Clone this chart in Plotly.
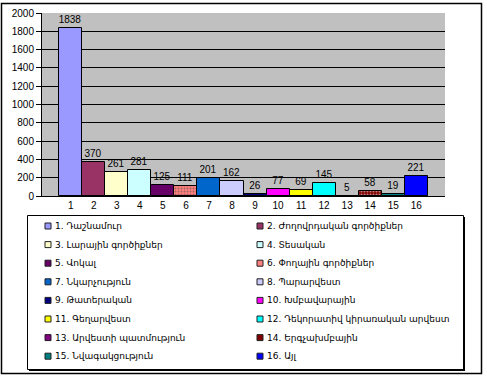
import plotly.graph_objects as go

positions = list(range(1, 17))
tick_labels = [str(i) for i in positions]
values = [1838, 370, 261, 281, 125, 111, 201, 162, 26, 77, 69, 145, 5, 58, 19, 221]
names = [
    "1. Դաշնամուր",
    "2. Ժողովրդական գործիքներ",
    "3. Լարային գործիքներ",
    "4. Տեսական",
    "5. Վոկալ",
    "6. Փողային գործիքներ",
    "7. Նկարչություն",
    "8. Պարարվեստ",
    "9. Թատերական",
    "10. Խմբավարային",
    "11. Գեղարվեստ",
    "12. Դեկորատիվ կիրառական արվեստ",
    "13. Արվեստի պատմություն",
    "14. Երգչախմբային",
    "15. Նվագակցություն",
    "16. Այլ",
]
colors = ["#9999FF", "#993366", "#FFFFCC", "#CCFFFF", "#660066", "#FF8080",
          "#0066CC", "#CCCCFF", "#000080", "#FF00FF", "#FFFF00", "#00FFFF",
          "#800080", "#800000", "#008080", "#0000FF"]
patterns = ["", "", "", "", "", ".", "", "", "", "", "", "", "", ".", "", ""]
pattern_fg = ["#000000"] * 16
pattern_fg[5] = "#FFD0D0"
pattern_fg[13] = "#300000"

W, H = 487, 379
L, R, T, B = 42, 445, 13, 196  # plot area in px

def px_x(px):
    return (px - L) / (R - L)

def px_y(py):
    return (B - py) / (B - T)

fig = go.Figure()
fig.add_trace(go.Bar(
    x=positions, y=values, width=1,
    marker=dict(color=colors, line=dict(color="black", width=1),
                pattern=dict(shape=patterns, fgcolor=pattern_fg, size=3, solidity=0.35)),
    text=[str(v) for v in values], textposition="outside", cliponaxis=False,
    textfont=dict(family="Liberation Sans, Arial", size=10, color="black"),
    showlegend=False,
))

shapes = []
# outer border
shapes.append(dict(type="rect", xref="paper", yref="paper",
                   x0=px_x(1.5), x1=px_x(481.5), y0=px_y(373.5), y1=px_y(3.5),
                   line=dict(color="black", width=1.5), fillcolor="rgba(0,0,0,0)", layer="below"))
# legend shadow + box
shapes.append(dict(type="rect", xref="paper", yref="paper",
                   x0=px_x(29), x1=px_x(465), y0=px_y(371), y1=px_y(217),
                   line=dict(width=0), fillcolor="black"))
shapes.append(dict(type="rect", xref="paper", yref="paper",
                   x0=px_x(27.5), x1=px_x(463.5), y0=px_y(369.5), y1=px_y(215.5),
                   line=dict(color="black", width=1), fillcolor="white"))

annotations = []
col_x = [45, 257]
row_y0, row_dy = 226, 18.6
for i, (nm, c) in enumerate(zip(names, colors)):
    col = i % 2
    row = i // 2
    cy = row_y0 + row * row_dy
    mx = col_x[col]
    shapes.append(dict(type="rect", xref="paper", yref="paper",
                       x0=px_x(mx), x1=px_x(mx + 6), y0=px_y(cy + 3), y1=px_y(cy - 3),
                       line=dict(color="#202020", width=1), fillcolor=c))
    annotations.append(dict(text=nm, xref="paper", yref="paper",
                            x=px_x(mx + 8), y=px_y(cy), xanchor="left", yanchor="middle",
                            showarrow=False,
                            font=dict(family="DejaVu Sans, Noto Sans", size=9, color="black")))

fig.update_layout(
    width=W, height=H,
    margin=dict(l=L, r=W - R, t=T, b=H - B, pad=0, autoexpand=False),
    paper_bgcolor="white", plot_bgcolor="#C0C0C0",
    bargap=0, barmode="overlay",
    shapes=shapes, annotations=annotations,
    xaxis=dict(range=[-0.25, 17.25], tickvals=positions, ticktext=tick_labels,
               showgrid=False, showline=True, linecolor="black", linewidth=1,
               ticks="", zeroline=False, fixedrange=True, automargin=False,
               tickfont=dict(family="Liberation Sans, Arial", size=10, color="black")),
    yaxis=dict(range=[0, 2000], dtick=200, tick0=0,
               showgrid=True, gridcolor="black", gridwidth=1,
               showline=True, linecolor="black", linewidth=1,
               ticks="outside", ticklen=5, tickcolor="black", tickwidth=1,
               zeroline=False, fixedrange=True, automargin=False,
               tickfont=dict(family="Liberation Sans, Arial", size=10, color="black")),
    font=dict(family="Liberation Sans, Arial", size=10, color="black"),
)

fig.write_html("out.html", config={"displayModeBar": False},
               post_script="document.body.style.margin='0';document.body.style.overflow='hidden';")
